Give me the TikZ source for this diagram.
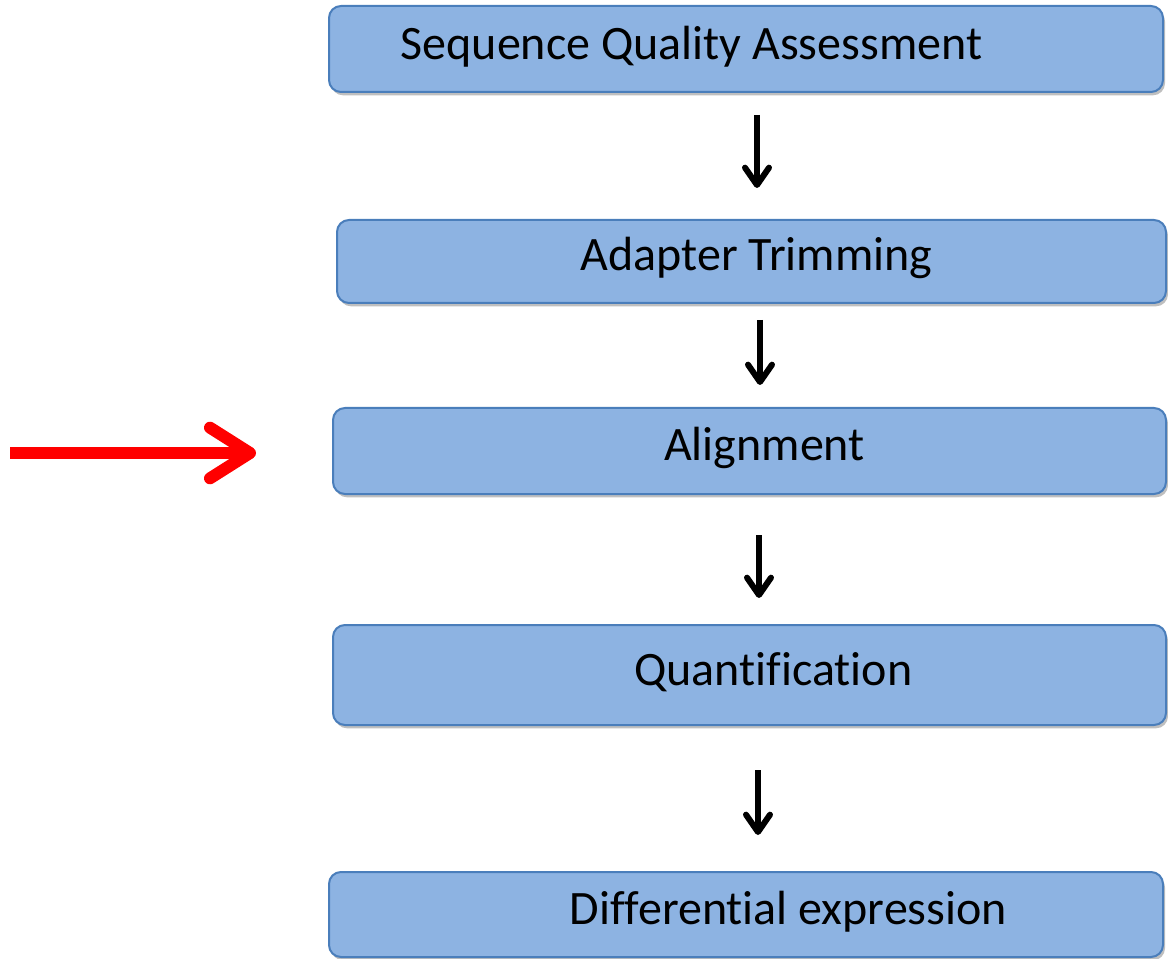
\documentclass[tikz,border=0pt]{standalone}
\usepackage{fontspec}
\setmainfont{Carlito}[RawFeature={-liga;-clig;-calt;-dlig}]
\usetikzlibrary{arrows.meta,shadows}

\definecolor{stepfill}{HTML}{8DB3E2}
\definecolor{stepline}{HTML}{4A7EBB}

\begin{document}
\begin{tikzpicture}[
  x=0.75pt, y=-0.75pt,
  font=\fontsize{36}{40}\selectfont,
  stepbox/.style={
    draw=stepline,
    fill=stepfill,
    rounded corners=9pt,
    line width=1.5pt,
    inner sep=0pt,
    drop shadow={shadow xshift=1.5pt, shadow yshift=-2.5pt, opacity=0.25, fill=black}
  },
  steptext/.style={inner sep=0pt, anchor=center},
  flow/.style={-{Straight Barb[length=13pt, width=18pt, round]}, line width=4.5pt},
  pointer/.style={-{Straight Barb[length=30pt, width=38pt, round]}, line width=9pt, red}
]
\useasboundingbox (0,0) rectangle (1168,959);

% Pipeline steps
\node[stepbox, minimum width=625.5pt, minimum height=64.5pt] (qual) at (746,49) {};
\node[stepbox, minimum width=621.75pt, minimum height=62.25pt] (trim) at (751.5,261.5) {};
\node[stepbox, minimum width=624.75pt, minimum height=64.5pt] (align) at (749.5,451) {};
\node[stepbox, minimum width=624.75pt, minimum height=75pt] (quant) at (749.5,675) {};
\node[stepbox, minimum width=625.5pt, minimum height=63.75pt] (diffex) at (746,914.5) {};

% Step labels
\node[steptext] (qualtxt) at (691.5,47) {Sequence Quality Assessment};
\node[steptext] (trimtxt) at (756.5,258) {Adapter Trimming};
\node[steptext] (aligntxt) at (764.5,448) {Alignment};
\node[steptext] (quanttxt) at (773.5,672) {Quantification};
\node[steptext] (diffextxt) at (788.5,912) {Differential expression};

% Arrow ends
\coordinate (qualout) at (757,115);
\coordinate (trimin) at (757,188);
\coordinate (trimout) at (760,320);
\coordinate (alignin) at (760,385);
\coordinate (alignout) at (759,535);
\coordinate (quantin) at (759,598);
\coordinate (quantout) at (758,770);
\coordinate (diffexin) at (758,835);
\coordinate (marktail) at (10,453);
\coordinate (markhead) at (256,453);

% Flow arrows
\draw[flow] (qualout) -- (trimin);
\draw[flow] (trimout) -- (alignin);
\draw[flow] (alignout) -- (quantin);
\draw[flow] (quantout) -- (diffexin);

% Highlight
\draw[pointer] (marktail) -- (markhead);

\end{tikzpicture}
\end{document}
